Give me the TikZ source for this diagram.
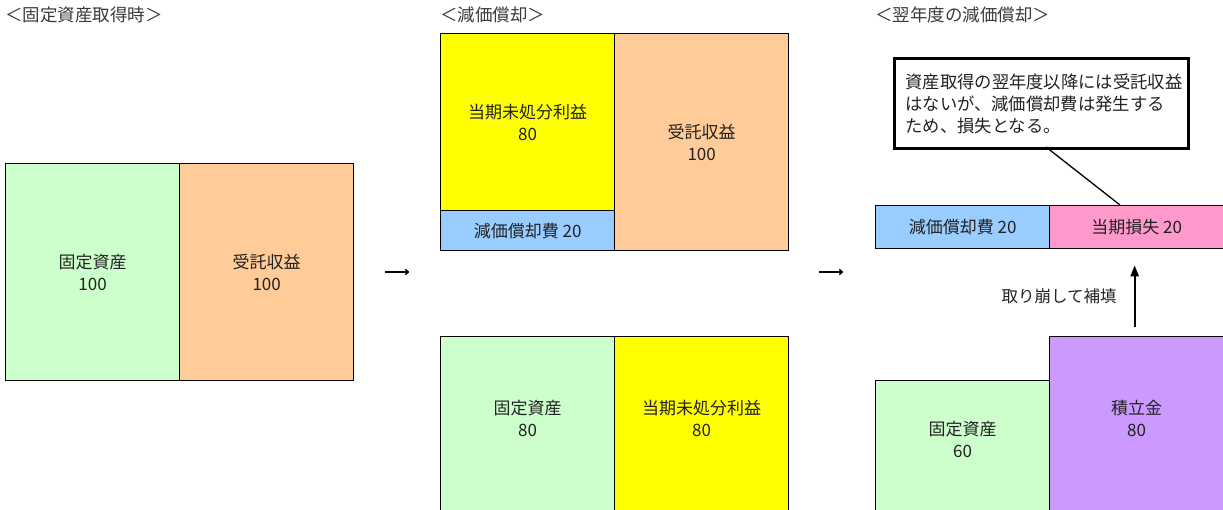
\documentclass[tikz,border=0pt]{standalone}
\usepackage{fontspec}
\setmainfont{Noto Sans CJK JP}
\usetikzlibrary{arrows.meta}
\definecolor{cgreen}{HTML}{CCFFCC}
\definecolor{corange}{HTML}{FFCC99}
\definecolor{cyellow}{HTML}{FFFF00}
\definecolor{cblue}{HTML}{99CCFF}
\definecolor{cpink}{HTML}{FF99CC}
\definecolor{cpurple}{HTML}{CC99FF}
\definecolor{ctext}{HTML}{222222}
\definecolor{ctitle}{HTML}{3A3A3A}
\begin{document}
\begin{tikzpicture}[x=1pt,y=-1pt,
  box/.style={draw=black, line width=1.3pt, inner sep=0pt, anchor=north west, align=center,
    text=ctext, font=\fontsize{17}{22}\selectfont},
  title/.style={anchor=west, text=ctitle, inner sep=0pt, font=\fontsize{17.5}{20}\selectfont},
  stepline/.style={line width=1.4pt, -{To[length=4pt,width=6pt]}},
  uparrow/.style={line width=2pt, -{Triangle[length=11pt,width=8pt]}}]
\useasboundingbox (0,0) rectangle (1223,510);
% titles
\node[title] (t1) at (5,15) {＜固定資産取得時＞};
\node[title] (t2) at (440,15) {＜減価償却＞};
\node[title] (t3) at (875,15) {＜翌年度の減価償却＞};
% left panel
\node[box, fill=cgreen, minimum width=174pt, minimum height=217pt] (a1) at (5,163) {固定資産\\100};
\node[box, fill=corange, minimum width=174pt, minimum height=217pt] (a2) at (179,163) {受託収益\\100};
% arrow 1
\coordinate (p1) at (385,272);
\coordinate (p2) at (409,272);
\draw[stepline] (p1) -- (p2);
% middle top
\node[box, fill=cyellow, minimum width=174pt, minimum height=177pt] (b1) at (440,33) {当期未処分利益\\80};
\node[box, fill=cblue, minimum width=174pt, minimum height=40pt] (b2) at (440,210) {減価償却費 20};
\node[box, fill=corange, minimum width=174pt, minimum height=217pt] (b3) at (614,33) {受託収益\\100};
% middle bottom
\node[box, fill=cgreen, minimum width=174pt, minimum height=180pt] (c1) at (440,336) {固定資産\\80\\[-6pt]};
\node[box, fill=cyellow, minimum width=174pt, minimum height=180pt] (c2) at (614,336) {当期未処分利益\\80\\[-6pt]};
% arrow 2
\coordinate (q1) at (819,272);
\coordinate (q2) at (843,272);
\draw[stepline] (q1) -- (q2);
% right
\node[box, fill=cblue, minimum width=174pt, minimum height=43pt] (d1) at (875,205) {減価償却費 20};
\node[box, fill=cpink, minimum width=174pt, minimum height=43pt] (d2) at (1049,205) {当期損失 20};
\node[box, fill=white, line width=3pt, minimum width=294pt, minimum height=90pt, align=left, text width=272pt,
  font=\fontsize{17.3}{22}\selectfont] (call) at (893,57)
  {資産取得の翌年度以降には受託収益\\はないが、減価償却費は発生する\\ため、損失となる。};
\coordinate (cl) at (1046,147);
\coordinate (ce) at (1120,205);
\draw[line width=1.3pt] (cl) -- (ce);
\node[box, fill=cgreen, minimum width=174pt, minimum height=135pt] (e1) at (875,380) {固定資産\\60\\[-4pt]};
\node[box, fill=cpurple, minimum width=174pt, minimum height=180pt] (e2) at (1049,336) {積立金\\80\\[-6pt]};
\node[text=ctext, inner sep=0pt, font=\fontsize{16.5}{20}\selectfont] (lbl) at (1059,296) {取り崩して補填};
\draw[uparrow] ([xshift=-2pt,yshift=9pt]e2.north) -- ([xshift=-2pt,yshift=-16pt]d2.south);
\end{tikzpicture}
\end{document}
